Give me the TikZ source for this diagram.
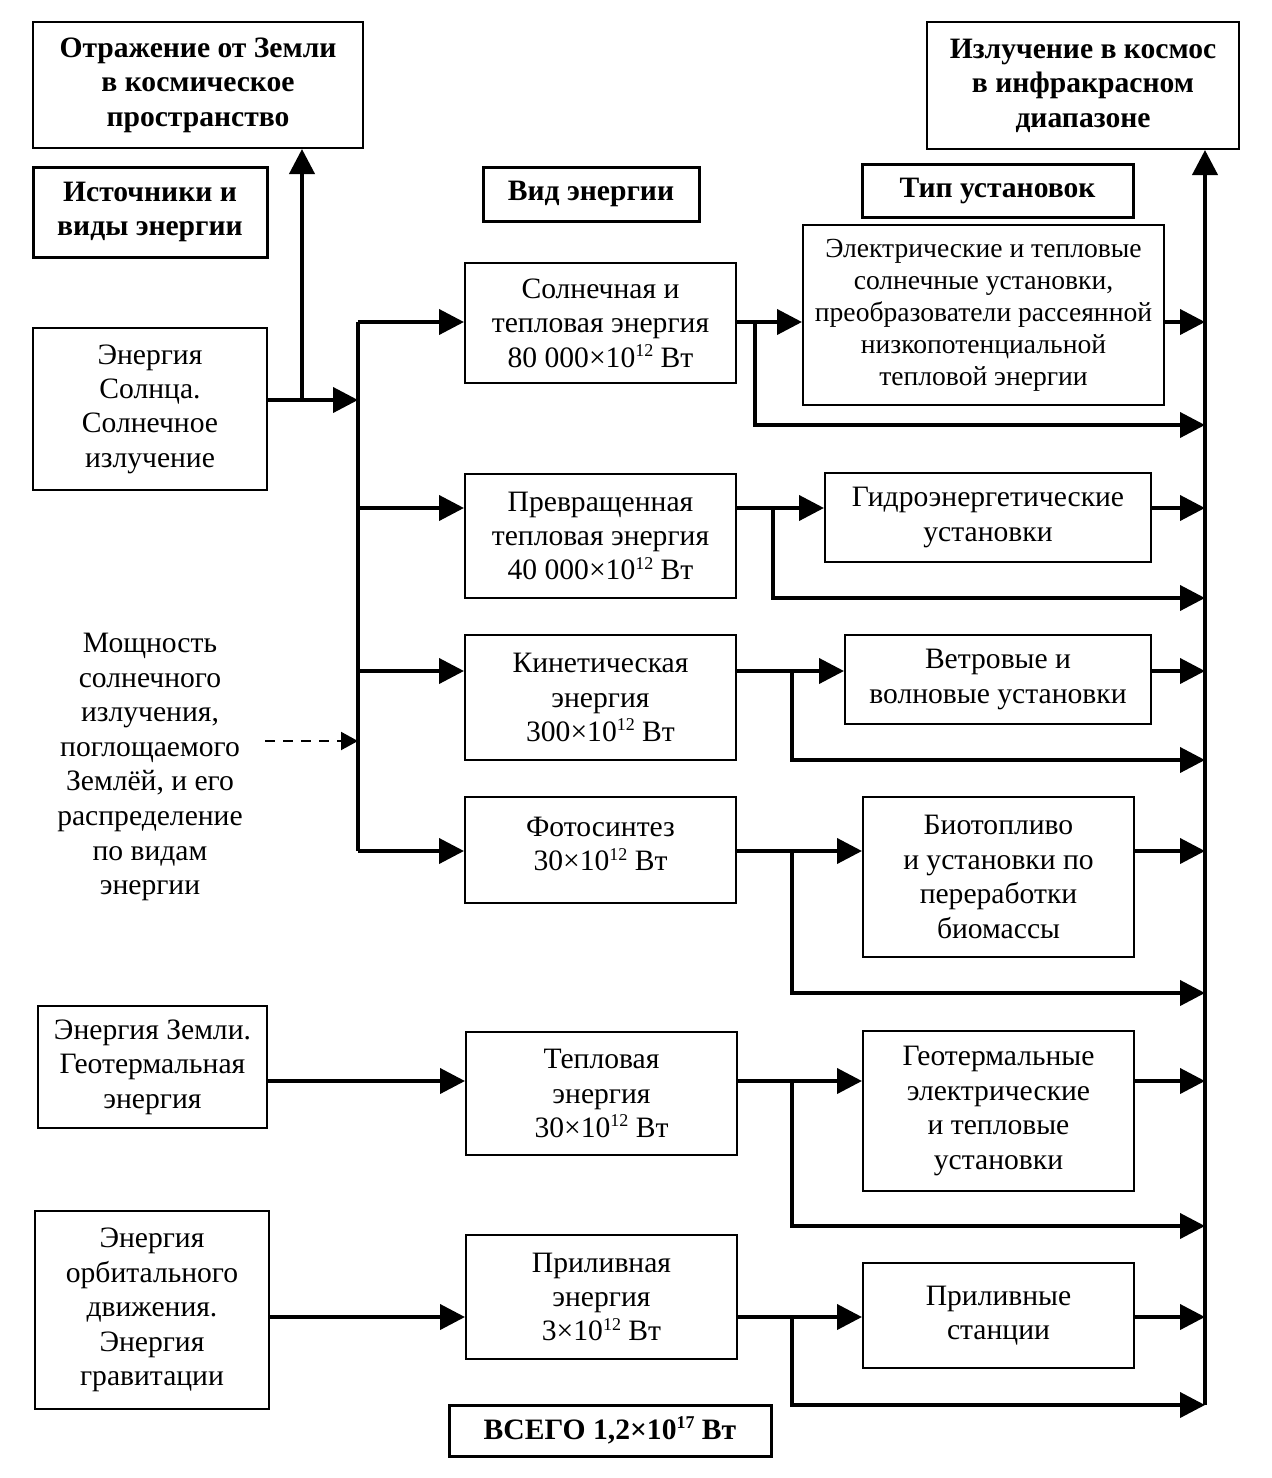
\documentclass[tikz,border=0pt]{standalone}
\usepackage{fontspec}
\setmainfont{Liberation Serif}
\usetikzlibrary{arrows.meta}
\newcommand\spow[1]{\raisebox{0.8ex}{\fontsize{9}{9}\selectfont #1}}
\newcommand\bx[7][box]{%
  \pgfmathsetmacro\bxcx{(#3+#5)/2}%
  \pgfmathsetmacro\bxcy{(#4+#6)/2}%
  \pgfmathsetmacro\bxw{(#5-#3)*0.5}%
  \pgfmathsetmacro\bxh{(#6-#4)*0.5}%
  \node[#1, minimum width=\bxw pt, minimum height=\bxh pt] (#2) at (\bxcx,\bxcy) {#7};}
\begin{document}
\begin{tikzpicture}[x=0.5pt,y=-0.5pt,
  txt/.style={font=\fontsize{14.8}{17.2}\selectfont, align=center},
  box/.style={draw, line width=1pt, inner sep=0pt, txt},
  hbox/.style={draw, line width=1.5pt, inner sep=0pt, txt, font=\fontsize{14.8}{17.2}\selectfont\bfseries},
  tbox/.style={box, font=\fontsize{14.8}{17.2}\selectfont\bfseries},
  conn/.style={line width=2pt, line join=miter},
  arr/.style={conn, -{Triangle[length=12.5pt,width=12.5pt]}},
  darr/.style={line width=1pt, dash pattern=on 5pt off 4pt, -{Triangle[length=8.5pt,width=9pt]}}
]
\useasboundingbox (0,0) rectangle (1271,1478);

% header boxes
\bx[tbox]{refl}{33}{22}{363}{148}{Отражение от Земли\\в космическое\\пространство}
\bx[tbox]{ir}{927}{22}{1239}{149}{Излучение в космос\\в инфракрасном\\диапазоне}
\bx[hbox]{hsrc}{33}{167}{267}{257}{Источники и\\виды энергии}
\bx[hbox]{hkind}{483}{167}{699}{221}{Вид энергии}
\bx[hbox]{htype}{862}{164}{1133}{217}{Тип установок}
\bx[hbox]{total}{449}{1405}{771}{1456}{ВСЕГО 1,2×10\spow{17} Вт}

% sources
\bx{src1}{33}{328}{267}{490}{Энергия\\Солнца.\\Солнечное\\излучение}
\bx{src2}{38}{1006}{267}{1128}{Энергия Земли.\\Геотермальная\\энергия}
\bx{src3}{35}{1211}{269}{1409}{Энергия\\орбитального\\движения.\\Энергия\\гравитации}
\node[txt, font=\fontsize{14.8}{17.3}\selectfont] (note) at (150,767) {Мощность\\солнечного\\излучения,\\поглощаемого\\Землёй, и его\\распределение\\по видам\\энергии};

% kinds
\bx{k1}{465}{263}{736}{383}{Солнечная и\\тепловая энергия\\80 000×10\spow{12} Вт}
\bx{k2}{465}{474}{736}{598}{Превращенная\\тепловая энергия\\40 000×10\spow{12} Вт}
\bx{k3}{465}{635}{736}{760}{Кинетическая\\энергия\\300×10\spow{12} Вт}
\bx{k4}{465}{797}{736}{903}{Фотосинтез\\30×10\spow{12} Вт\\[-11.2pt]\mbox{}}
\bx{k5}{466}{1032}{737}{1155}{Тепловая\\энергия\\30×10\spow{12} Вт}
\bx{k6}{466}{1235}{737}{1359}{Приливная\\энергия\\3×10\spow{12} Вт}

% installations
\bx[box, font=\fontsize{13.8}{16}\selectfont]{i1}{803}{225}{1164}{405}{Электрические и тепловые\\солнечные установки,\\преобразователи рассеянной\\низкопотенциальной\\тепловой энергии}
\bx{i2}{825}{473}{1151}{562}{Гидроэнергетические\\установки}
\bx{i3}{845}{635}{1151}{724}{Ветровые и\\волновые установки}
\bx{i4}{863}{797}{1134}{957}{Биотопливо\\и установки по\\переработки\\биомассы}
\bx{i5}{863}{1031}{1134}{1191}{Геотермальные\\электрические\\и тепловые\\установки}
\bx{i6}{863}{1263}{1134}{1368}{Приливные\\станции}

% row levels
\coordinate (r1) at (0,322);
\coordinate (r2) at (0,508);
\coordinate (r3) at (0,671);
\coordinate (r4) at (0,851);
\coordinate (r5) at (0,1081);
\coordinate (r6) at (0,1317);

% left bus
\coordinate (j0) at (302,400);
\coordinate (b0) at (358,400);
\coordinate (bT) at (358,322);
\coordinate (bB) at (358,851);
\coordinate (nd) at (358,741);
\coordinate (ns) at (265,741);

\draw[arr] (src1.east |- j0) -- (b0);
\draw[arr] (j0) -- (refl.south -| j0);
\draw[conn] (bT) -- (bB);
\draw[arr] (bT) -- (k1.west |- bT);
\draw[arr] (358,508) coordinate (bb2) -- (k2.west |- bb2);
\draw[arr] (358,671) coordinate (bb3) -- (k3.west |- bb3);
\draw[arr] (bB) -- (k4.west |- bB);
\draw[darr] (ns) -- (nd);

\draw[arr] (src2.east |- r5) -- (k5.west |- r5);
\draw[arr] (src3.east |- r6) -- (k6.west |- r6);

% right bus
\coordinate (rb) at (1205,1405);
\draw[arr] (rb) -- (ir.south -| rb);

% kinds to installations
\draw[arr] (k1.east |- r1) -- (i1.west |- r1);
\draw[arr] (k2.east |- r2) -- (i2.west |- r2);
\draw[arr] (k3.east |- r3) -- (i3.west |- r3);
\draw[arr] (k4.east |- r4) -- (i4.west |- r4);
\draw[arr] (k5.east |- r5) -- (i5.west |- r5);
\draw[arr] (k6.east |- r6) -- (i6.west |- r6);

% installations to right bus
\draw[arr] (i1.east |- r1) -- (rb |- r1);
\draw[arr] (i2.east |- r2) -- (rb |- r2);
\draw[arr] (i3.east |- r3) -- (rb |- r3);
\draw[arr] (i4.east |- r4) -- (rb |- r4);
\draw[arr] (i5.east |- r5) -- (rb |- r5);
\draw[arr] (i6.east |- r6) -- (rb |- r6);

% bypass branches
\coordinate (s1) at (755,322);  \coordinate (e1) at (1205,425);
\coordinate (s2) at (773,508);  \coordinate (e2) at (1205,598);
\coordinate (s3) at (792,671);  \coordinate (e3) at (1205,760);
\coordinate (s4) at (792,851);  \coordinate (e4) at (1205,993);
\coordinate (s5) at (792,1081); \coordinate (e5) at (1205,1226);
\coordinate (s6) at (792,1317); \coordinate (e6) at (1205,1405);
\draw[arr] (s1) |- (e1);
\draw[arr] (s2) |- (e2);
\draw[arr] (s3) |- (e3);
\draw[arr] (s4) |- (e4);
\draw[arr] (s5) |- (e5);
\draw[arr] (s6) |- (e6);
\end{tikzpicture}
\end{document}
